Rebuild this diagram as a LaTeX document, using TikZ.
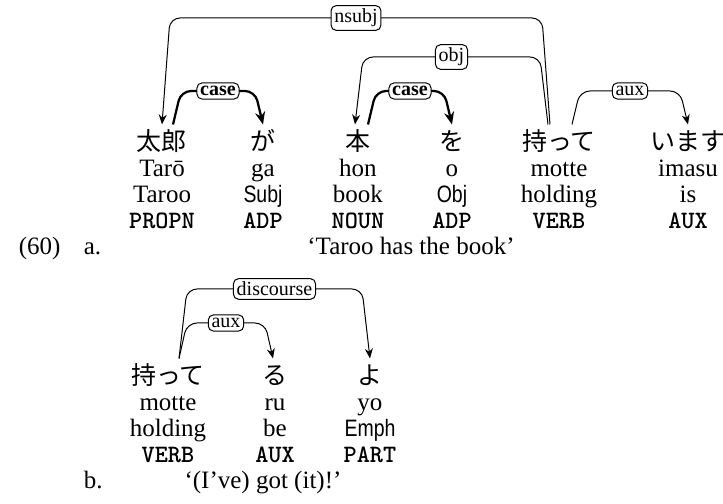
\documentclass[tikz,border=0pt]{standalone}
\usepackage{fontspec}
\setmainfont{Liberation Serif}
\newfontfamily\jpfont{Noto Sans CJK JP}
\newfontfamily\glossfont[FakeStretch=0.82]{Liberation Sans}
\usetikzlibrary{arrows.meta,calc}
\newcommand{\jp}[1]{{\jpfont\rule{0pt}{8.6pt}#1}}
\newcommand{\gl}[1]{{\glossfont\fontsize{9.5}{10.4}\selectfont #1}}
\newcommand{\pos}[1]{{\ttfamily\bfseries\fontsize{10}{10.4}\selectfont #1}}
\newcommand{\deplink}[5][]{%
  \draw[dep,#1] let \p1=(#2), \p2=(#3), \p3=(0,#4) in
    (\p1) -- (\x1+3.2pt,\y3) -- node[deplab]{#5} (\x2-3.2pt,\y3) -- (\p2);}

\begin{document}
\begin{tikzpicture}[x=0.4pt,y=-0.4pt, >={Stealth[length=4pt,width=3.2pt]},
  w/.style={align=center,inner sep=0pt,outer ysep=2pt,anchor=base,font=\fontsize{10}{10.4}\selectfont},
  dep/.style={line width=0.4pt,rounded corners=4pt},
  case/.style={line width=0.9pt,>={Stealth[length=5pt,width=4pt]}},
  deplab/.style={draw,fill=white,line width=0.4pt,rounded corners=2pt,inner sep=1.3pt,font=\fontsize{8}{9}\selectfont}]
\useasboundingbox (0,0) rectangle (723,504);
\node[w] (taro) at (162,229) {\jp{太郎}\\Tarō\\Taroo\\\pos{PROPN}};
\node[w] (ga) at (263,229) {\jp{が}\\ga\\\gl{Subj}\\\pos{ADP}};
\node[w] (hon) at (358,229) {\jp{本}\\hon\\book\\\pos{NOUN}};
\node[w] (o) at (452,229) {\jp{を}\\o\\\gl{Obj}\\\pos{ADP}};
\node[w] (motte) at (559,229) {\jp{持って}\\motte\\holding\\\pos{VERB}};
\node[w] (imasu) at (688,229) {\jp{います}\\imasu\\is\\\pos{AUX}};
\node[anchor=base west] (num) at (10,255) {(60)};
\node[anchor=base west] (a) at (75,255) {a.};
\node[anchor=base] (tra) at (411,255) {‘Taroo has the book’};
\deplink[<-]{taro.north}{[xshift=-3.6pt]motte.north}{18}{nsubj}
\deplink[<-]{[xshift=-1.2pt]hon.north}{[xshift=-4.4pt]motte.north}{57}{obj}
\deplink[->,case]{[xshift=4.4pt]taro.north}{ga.north}{91}{\bfseries case}
\deplink[->,case]{[xshift=4pt]hon.north}{o.north}{91}{\bfseries case}
\deplink[->]{[xshift=5.2pt]motte.north}{imasu.north}{91}{aux}
\node[w] (motteb) at (168,463) {\jp{持って}\\motte\\holding\\\pos{VERB}};
\node[w] (ru) at (275,463) {\jp{る}\\ru\\be\\\pos{AUX}};
\node[w] (yo) at (370,463) {\jp{よ}\\yo\\\gl{Emph}\\\pos{PART}};
\node[anchor=base west] (b) at (75,489) {b.};
\node[anchor=base] (trb) at (263,489) {‘(I’ve) got (it)!’};
\deplink[->]{[xshift=4.4pt]motteb.north}{yo.north}{289}{discourse}
\deplink[->]{[xshift=4.4pt]motteb.north}{[xshift=-0.8pt]ru.north}{323}{aux}
\end{tikzpicture}
\end{document}
